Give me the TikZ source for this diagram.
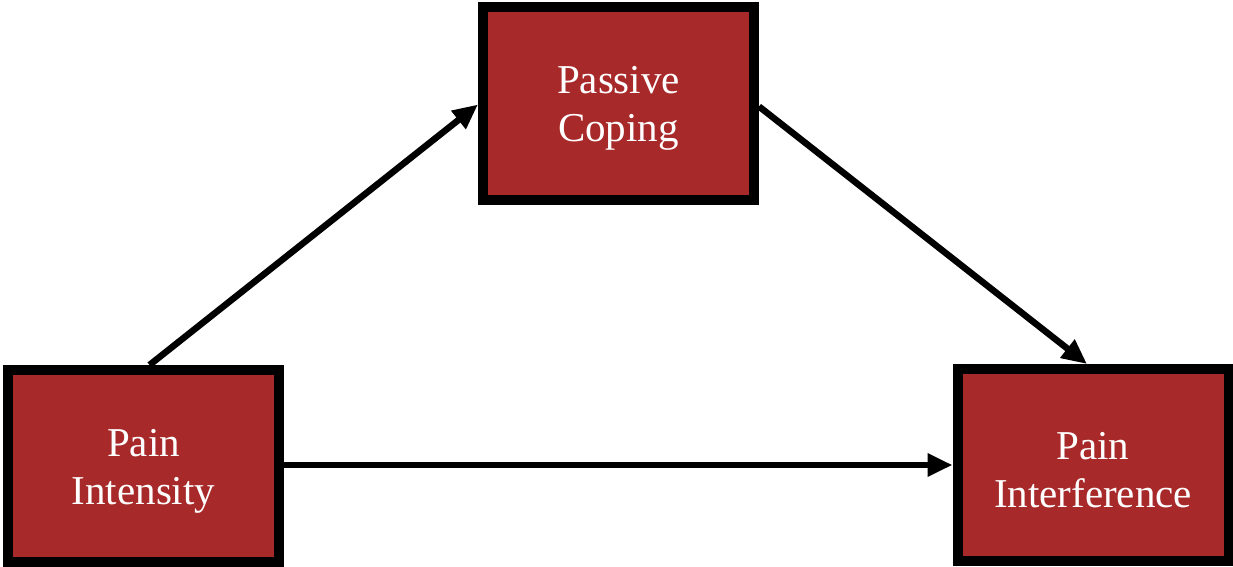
\documentclass[tikz,border=0pt]{standalone}
\usepackage{fontspec}
\setmainfont{Liberation Serif}
\usetikzlibrary{arrows.meta}
\definecolor{boxred}{RGB}{168,41,41}
\tikzset{
  box/.style={draw=black, line width=10pt, fill=boxred, minimum width=271pt, minimum height=192pt,
    inner sep=0pt},
  boxtext/.style={align=center, text=white, font=\fontsize{41}{48}\selectfont, inner sep=0pt},
  arr/.style={line width=6.5pt, -{Triangle[length=25pt,width=22pt]}}
}
\begin{document}
\begin{tikzpicture}[x=1pt,y=-1pt]
\useasboundingbox (0,0) rectangle (1233,567);
\node[box] (top) at (618.5,103.5) {};
\node[box] (left) at (143.5,466) {};
\node[box] (right) at (1093,465) {};
\node[boxtext] (toptext) at ([yshift=-5pt]top.center) {Passive\\Coping};
\node[boxtext] (lefttext) at ([yshift=-5pt]left.center) {Pain\\Intensity};
\node[boxtext] (righttext) at ([yshift=-5pt]right.center) {Pain\\Interference};
\draw[arr] ([xshift=6pt]left.north) -- ([yshift=-1pt]top.west);
\draw[arr] ([yshift=-3pt]top.east) -- ([xshift=-6pt]right.north);
\draw[arr] (left.east |- right.west) -- (right.west);
\end{tikzpicture}
\end{document}
